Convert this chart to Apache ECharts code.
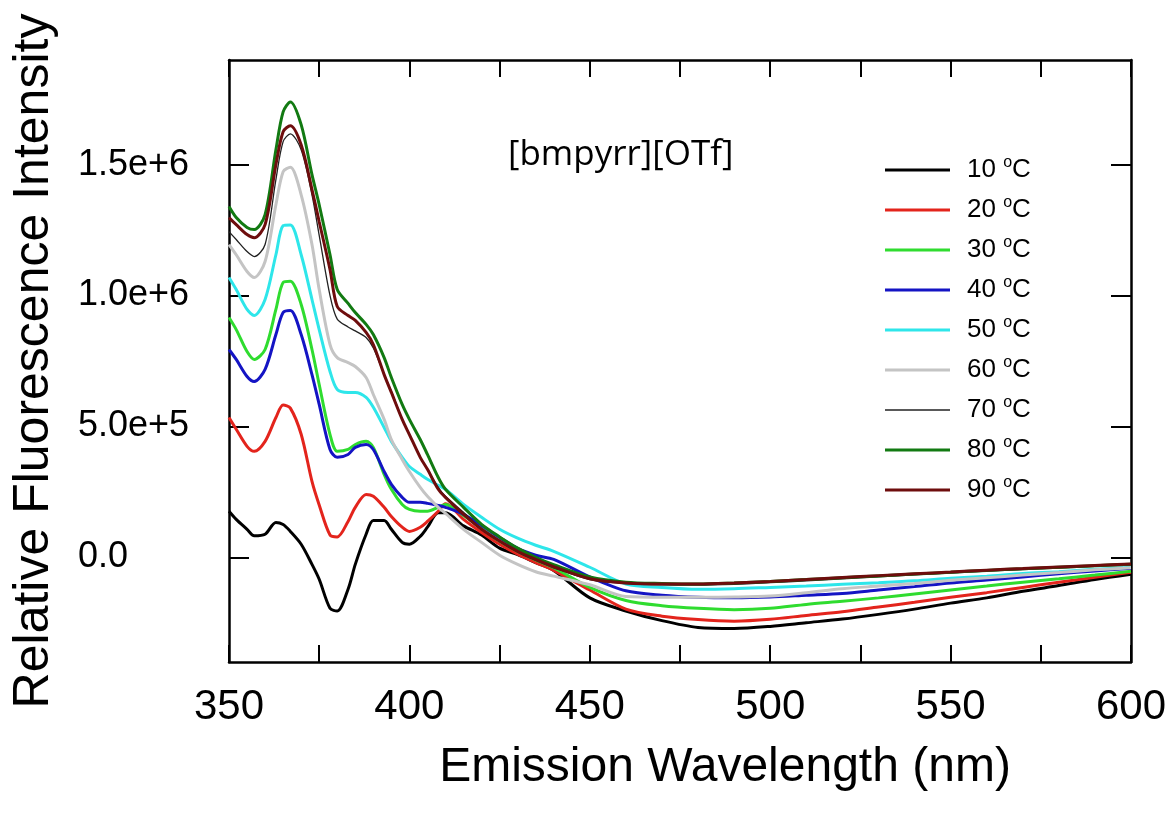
<!DOCTYPE html>
<html>
<head>
<meta charset="utf-8">
<script src="https://cdn.jsdelivr.net/npm/echarts@6/dist/echarts.min.js"></script>
<style>
  html, body { margin: 0; padding: 0; background: #fff; }
  #chart { width: 1171px; height: 814px; }
</style>
</head>
<body>
<div id="chart"></div>
<script>
// wavelength grid (nm)
const wavelength = [350,352,355,357,360,363,365,367,370,373,375,378,380,383,385,388,390,393,395,398,400,403,405,408,410,415,420,425,430,435,440,450,460,470,480,490,500,510,520,530,540,550,560,570,580,590,600];

// intensities, in units of 1e5
const UNIT = 1e5;
const t10 = [1.76,1.45,1.07,0.82,0.88,1.33,1.25,0.99,0.50,-0.27,-0.84,-1.95,-2.05,-1.22,-0.27,0.88,1.41,1.41,1.07,0.57,0.50,0.80,1.15,1.70,1.70,1.20,0.85,0.35,0.10,-0.20,-0.50,-1.55,-2.05,-2.42,-2.68,-2.72,-2.64,-2.50,-2.36,-2.18,-1.98,-1.75,-1.55,-1.30,-1.08,-0.85,-0.65];
const t20 = [5.34,4.89,4.24,4.05,4.43,5.34,5.82,5.70,4.70,2.90,2.00,0.85,0.78,1.37,1.91,2.40,2.33,1.91,1.56,1.15,0.99,1.15,1.37,1.76,2.05,1.45,0.95,0.50,0.12,-0.20,-0.50,-1.25,-1.98,-2.25,-2.38,-2.44,-2.37,-2.22,-2.08,-1.90,-1.72,-1.53,-1.35,-1.15,-0.95,-0.76,-0.57];
const t30 = [9.16,8.70,7.86,7.56,7.94,9.47,10.50,10.55,9.66,7.94,6.60,4.69,4.05,4.12,4.31,4.43,4.20,3.17,2.60,2.02,1.83,1.76,1.76,1.91,2.02,1.60,1.10,0.62,0.23,-0.10,-0.40,-1.15,-1.65,-1.85,-1.95,-2.00,-1.95,-1.80,-1.68,-1.55,-1.40,-1.25,-1.10,-0.95,-0.82,-0.68,-0.53];
const t40 = [7.94,7.56,6.91,6.72,7.18,8.51,9.35,9.43,8.51,6.98,5.84,4.12,3.82,3.93,4.20,4.31,4.12,3.28,2.79,2.29,2.10,2.10,2.06,1.98,1.91,1.64,1.22,0.76,0.34,0.08,-0.08,-0.75,-1.28,-1.45,-1.53,-1.55,-1.52,-1.45,-1.38,-1.25,-1.12,-0.98,-0.87,-0.75,-0.63,-0.52,-0.42];
const t50 = [10.69,10.23,9.47,9.24,9.85,11.56,12.67,12.70,11.56,9.85,8.70,7.10,6.41,6.30,6.30,6.11,5.73,4.96,4.43,3.82,3.47,3.17,2.98,2.75,2.60,2.02,1.53,1.07,0.73,0.46,0.23,-0.38,-1.02,-1.15,-1.22,-1.20,-1.15,-1.10,-1.03,-0.97,-0.90,-0.80,-0.72,-0.62,-0.55,-0.46,-0.38];
const t60 = [11.95,11.56,10.92,10.69,11.30,13.47,14.73,14.90,13.85,11.95,10.23,8.13,7.63,7.44,7.29,6.87,6.22,5.27,4.50,3.74,3.28,2.67,2.33,1.91,1.68,1.07,0.57,0.08,-0.27,-0.55,-0.72,-1.05,-1.50,-1.53,-1.53,-1.52,-1.48,-1.35,-1.20,-1.10,-1.00,-0.88,-0.78,-0.68,-0.58,-0.48,-0.40];
const t70 = [12.44,12.14,11.68,11.49,11.95,14.43,15.88,16.18,15.57,13.85,12.30,10.00,9.10,8.80,8.65,8.40,8.00,6.98,6.34,5.27,4.69,3.82,3.36,2.67,2.33,1.72,1.07,0.60,0.20,-0.12,-0.40,-0.85,-1.00,-1.05,-1.06,-1.03,-0.97,-0.90,-0.82,-0.75,-0.67,-0.60,-0.53,-0.47,-0.41,-0.35,-0.30];
const t80 = [13.40,12.98,12.60,12.52,13.09,15.57,17.02,17.40,16.53,14.62,13.47,11.56,10.23,9.70,9.35,8.90,8.51,7.63,6.87,5.84,5.27,4.50,3.93,3.05,2.60,1.91,1.26,0.78,0.35,0.00,-0.28,-0.75,-0.95,-1.00,-1.02,-0.98,-0.92,-0.85,-0.78,-0.71,-0.64,-0.57,-0.50,-0.44,-0.38,-0.32,-0.27];
const t90 = [12.98,12.71,12.33,12.21,12.71,15.00,16.26,16.49,15.76,14.05,12.82,10.99,9.58,9.24,9.05,8.59,8.13,6.98,6.30,5.27,4.69,3.82,3.36,2.60,2.29,1.64,1.07,0.62,0.23,-0.08,-0.36,-0.82,-0.98,-1.02,-1.02,-0.98,-0.92,-0.85,-0.77,-0.70,-0.63,-0.56,-0.49,-0.43,-0.37,-0.31,-0.26];

const seriesNames = ['10 °C','20 °C','30 °C','40 °C','50 °C','60 °C','70 °C','80 °C','90 °C'];
const seriesValues = [t10,t20,t30,t40,t50,t60,t70,t80,t90];
const colors = ['#000000','#e3241c','#2fdc2f','#1414c4','#2ee6ea','#c4c4c4','#222222','#127a12','#6e0d0d'];
const widths = [3,3,3,3,3,3,1.3,3,3];

const yTicks = [0, 5e5, 1e6, 1.5e6];

const chart = echarts.init(document.getElementById('chart'));

const series = seriesNames.map((name, k) => ({
  name: name,
  type: 'line',
  symbol: 'none',
  smooth: 0.3,
  lineStyle: { color: colors[k], width: widths[k] },
  itemStyle: { color: colors[k] },
  data: wavelength.map((w, i) => [w, seriesValues[k][i] * UNIT])
}));

// legend icons: plain line segments, thinner one for 70 °C
const legendData = seriesNames.map((name, k) => ({
  name: name,
  icon: widths[k] < 2 ? 'path://M0,0H65V1.3H0Z' : 'path://M0,0H65V3H0Z'
}));

const sans = 'Liberation Sans, Arial, sans-serif';

const option = {
  animation: false,
  backgroundColor: '#fff',
  grid: { left: 229, right: 40, top: 60, bottom: 152 },
  legend: {
    orient: 'vertical',
    left: 880,
    top: 150,
    itemWidth: 65,
    itemHeight: 14,
    itemGap: 10,
    data: legendData,
    formatter: function (name) {
      const t = name.split(' ')[0];
      return '{n|' + t + ' }{sup|o}{n2|C}';
    },
    textStyle: {
      color: '#000',
      fontFamily: sans,
      fontSize: 26,
      lineHeight: 30,
      rich: {
        n: { fontSize: 26, lineHeight: 30, padding: [0, 0, 0, 12], fontFamily: sans },
        n2: { fontSize: 26, lineHeight: 30, fontFamily: sans },
        sup: { fontSize: 16, lineHeight: 16, verticalAlign: 'top', fontFamily: sans }
      }
    }
  },
  xAxis: [{
    type: 'value',
    min: 350,
    max: 600,
    interval: 25,
    name: 'Emission Wavelength (nm)',
    nameLocation: 'middle',
    nameGap: 82,
    nameTextStyle: {
      fontFamily: sans,
      fontSize: 48,
      color: '#000',
      padding: [0, 0, 0, 90]
    },
    axisLine: { onZero: false, lineStyle: { color: '#000', width: 2.5 } },
    axisTick: { inside: true, length: 17, lineStyle: { color: '#000', width: 2 } },
    axisLabel: {
      margin: 24,
      fontFamily: sans,
      fontSize: 42,
      color: '#000',
      formatter: v => (v % 50 === 0 ? String(v) : '')
    },
    splitLine: { show: false }
  }, {
    type: 'value',
    position: 'top',
    min: 350,
    max: 600,
    interval: 25,
    axisLine: { onZero: false, lineStyle: { color: '#000', width: 2.5 } },
    axisTick: { inside: true, length: 17, lineStyle: { color: '#000', width: 2 } },
    axisLabel: { show: false },
    splitLine: { show: false }
  }],
  yAxis: [{
    type: 'value',
    min: -4e5,
    max: 1.9e6,
    name: 'Relative Fluorescence Intensity',
    nameLocation: 'middle',
    nameGap: 170,
    nameTextStyle: {
      fontFamily: sans,
      fontSize: 50,
      color: '#000'
    },
    axisLine: { show: true, onZero: false, lineStyle: { color: '#000', width: 2.5 } },
    axisTick: { show: true, inside: true, length: 20, customValues: yTicks, lineStyle: { color: '#000', width: 2 } },
    axisLabel: {
      customValues: yTicks,
      margin: 151,
      align: 'left',
      fontFamily: sans,
      fontSize: 36,
      color: '#000',
      formatter: v => (v === 0 ? '0.0' : v.toExponential(1))
    },
    splitLine: { show: false }
  }, {
    type: 'value',
    position: 'right',
    min: -4e5,
    max: 1.9e6,
    axisLine: { show: true, onZero: false, lineStyle: { color: '#000', width: 2.5 } },
    axisTick: { show: true, inside: true, length: 20, customValues: yTicks, lineStyle: { color: '#000', width: 2 } },
    axisLabel: { show: false },
    splitLine: { show: false }
  }],
  graphic: [{
    type: 'text',
    left: 508,
    top: 138,
    style: {
      text: '[bmpyrr][OTf]',
      fontFamily: 'Open Sans, sans-serif',
      fontSize: 35,
      fill: '#000'
    }
  }],
  series: series
};

chart.setOption(option);
</script>
</body>
</html>
